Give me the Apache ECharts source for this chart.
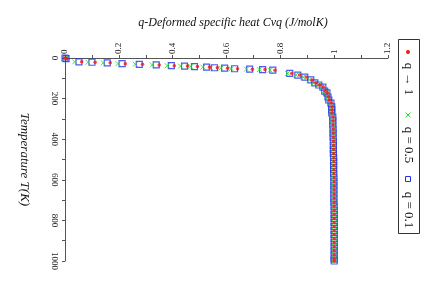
<!DOCTYPE html>
<html><head><meta charset="utf-8">
<script src="https://cdn.jsdelivr.net/npm/echarts@6/dist/echarts.min.js"></script>
<style>html,body{margin:0;padding:0;background:#fff}#c{width:436px;height:289px}</style>
</head><body><div id="c"></div>
<script>
var temps = [0, 3, 19, 21, 24, 28, 31, 34, 38, 40, 42, 45, 48, 50, 53, 55, 57, 60, 76, 84, 94, 108, 123, 133, 143, 163, 172, 192, 207, 222, 241, 256, 271, 291,
  310, 330, 350, 370, 390, 410, 430, 450, 470, 490, 510, 530, 550, 570, 590, 610, 630, 650, 670, 690, 710, 730, 750, 770, 790, 810, 830, 850, 870, 890, 910, 930, 950, 970, 990, 1000];
var cvQ1 = [0, 0.006, 0.062, 0.112, 0.168, 0.224, 0.288, 0.350, 0.406, 0.455, 0.492, 0.537, 0.566, 0.604, 0.641, 0.696, 0.743, 0.780, 0.842, 0.871, 0.896, 0.917, 0.932, 0.946, 0.960, 0.967, 0.975, 0.979, 0.982, 0.989, 0.992, 0.992, 0.992, 0.996,
  0.996, 0.996, 0.997, 0.997, 0.997, 0.998, 0.998, 0.998, 0.998, 0.999, 0.999, 0.999, 0.999, 0.999, 1.000, 1.000, 1.000, 1.000, 1.000, 1.000, 1.000, 1.000, 1.000, 1.000, 1.000, 1.000, 1.000, 1.000, 1.000, 1.000, 1.000, 1.000, 1.000, 1.000, 1.000, 1.000];
var cvQ05 = [0, 0.002, 0.036, 0.085, 0.142, 0.197, 0.261, 0.324, 0.380, 0.429, 0.467, 0.512, 0.541, 0.579, 0.617, 0.674, 0.722, 0.762, 0.827, 0.858, 0.885, 0.908, 0.924, 0.940, 0.955, 0.963, 0.971, 0.975, 0.978, 0.986, 0.990, 0.990, 0.990, 0.994,
  0.994, 0.995, 0.995, 0.996, 0.996, 0.996, 0.997, 0.997, 0.997, 0.997, 0.998, 0.998, 0.998, 0.998, 0.998, 0.999, 0.999, 0.999, 0.999, 0.999, 0.999, 0.999, 1.000, 1.000, 1.000, 1.000, 1.000, 1.000, 1.000, 1.000, 1.000, 1.000, 1.000, 1.000, 1.000, 1.000];
var cvQ01 = [0, 0.004, 0.052, 0.100, 0.157, 0.212, 0.276, 0.339, 0.395, 0.444, 0.481, 0.526, 0.555, 0.593, 0.630, 0.686, 0.734, 0.772, 0.835, 0.865, 0.891, 0.913, 0.928, 0.943, 0.958, 0.965, 0.973, 0.977, 0.980, 0.988, 0.991, 0.991, 0.991, 0.995,
  0.995, 0.995, 0.996, 0.996, 0.996, 0.997, 0.997, 0.997, 0.997, 0.998, 0.998, 0.998, 0.998, 0.998, 0.999, 0.999, 0.999, 0.999, 0.999, 0.999, 0.999, 1.000, 1.000, 1.000, 1.000, 1.000, 1.000, 1.000, 1.000, 1.000, 1.000, 1.000, 1.000, 1.000, 1.000, 1.000];
var legendNames = ['q \u2192 1', 'q = 0.5', 'q = 0.1'];
var xTitle = 'q-Deformed specific heat Cvq (J/molK)';
var yTitle = 'Temperature T(K)';

function pairs(cv){ return cv.map(function(v,i){ return [v, temps[i]]; }); }
var serif = 'Liberation Serif, Times New Roman, serif';
var chart = echarts.init(document.getElementById('c'), null, {renderer:'canvas'});
var axisCol = '#555';
chart.setOption({
  animation: false,
  backgroundColor: '#fff',
  title: { text: xTitle, left: 228, top: 12, textAlign: 'center',
    textStyle: { fontFamily: serif, fontStyle: 'italic', fontWeight: 'normal', fontSize: 12, color: '#111' } },
  grid: { left: 65, top: 58, right: 48, bottom: 28 },
  xAxis: { type: 'value', position: 'top', min: 0, max: 1.2, interval: 0.2, minorTick: { show: true, splitNumber: 2, length: 3, lineStyle:{color:axisCol} },
    axisLine: { show: true, onZero: false, lineStyle: { color: axisCol, width: 1 } },
    axisTick: { show: true, length: 3, lineStyle: { color: axisCol } },
    splitLine: { show: false },
    axisLabel: { rotate: -90, fontFamily: serif, fontSize: 9, color: '#222', margin: 4,
      formatter: function(v){ return String(+v.toFixed(1)); } } },
  yAxis: { type: 'value', inverse: true, min: 0, max: 1000, interval: 200,
    minorTick: { show: true, splitNumber: 2, length: 3, lineStyle:{color:axisCol} },
    axisLine: { show: true, onZero: false, lineStyle: { color: axisCol, width: 1 } },
    axisTick: { show: true, length: 3, lineStyle: { color: axisCol } },
    splitLine: { show: false },
    name: yTitle, nameLocation: 'middle', nameGap: 34, nameRotate: -90,
    nameTextStyle: { fontFamily: serif, fontStyle: 'italic', fontSize: 13, color: '#111' },
    axisLabel: { rotate: -90, fontFamily: serif, fontSize: 9, color: '#222', margin: 6,
      formatter: function(v){ return String(v); } } },
  series: [
    { name: legendNames[2], type: 'scatter', data: pairs(cvQ01), symbol: 'rect', symbolSize: 6,
      itemStyle: { color: 'rgba(0,0,0,0)', borderColor: '#1f2ff0', borderWidth: 1.2 }, z: 2 },
    { name: legendNames[1], type: 'scatter', data: pairs(cvQ05), symbol: 'path://M0,0L10,10M10,0L0,10', symbolSize: 5,
      itemStyle: { color: 'rgba(0,0,0,0)', borderColor: '#22dd22', borderWidth: 1 }, z: 3 },
    { name: legendNames[0], type: 'scatter', data: pairs(cvQ1), symbol: 'circle', symbolSize: 3.5,
      itemStyle: { color: '#ff1111' }, z: 4 }
  ],
  graphic: [
    { type: 'rect', shape: { x: 398.5, y: 39.5, width: 21, height: 194 }, style: { fill: '#fff', stroke: '#333', lineWidth: 1 } },
    { type: 'circle', shape: { cx: 408, cy: 52, r: 2 }, style: { fill: '#ff1111' } },
    { type: 'text', x: 408, y: 79, rotation: -Math.PI/2, style: { text: legendNames[0], fontFamily: serif, fontSize: 13, fill: '#111', align: 'center', verticalAlign: 'middle' } },
    { type: 'polyline', shape: { points: [[405.5,112.5],[410.5,117.5]] }, style: { stroke: '#22dd22', lineWidth: 1 } },
    { type: 'polyline', shape: { points: [[410.5,112.5],[405.5,117.5]] }, style: { stroke: '#22dd22', lineWidth: 1 } },
    { type: 'text', x: 408, y: 145, rotation: -Math.PI/2, style: { text: legendNames[1], fontFamily: serif, fontSize: 13, fill: '#111', align: 'center', verticalAlign: 'middle' } },
    { type: 'rect', shape: { x: 405.5, y: 176.5, width: 5, height: 5 }, style: { fill: 'none', stroke: '#2233ee', lineWidth: 1 } },
    { type: 'text', x: 408, y: 210, rotation: -Math.PI/2, style: { text: legendNames[2], fontFamily: serif, fontSize: 13, fill: '#111', align: 'center', verticalAlign: 'middle' } }
  ]
});
</script></body></html>
